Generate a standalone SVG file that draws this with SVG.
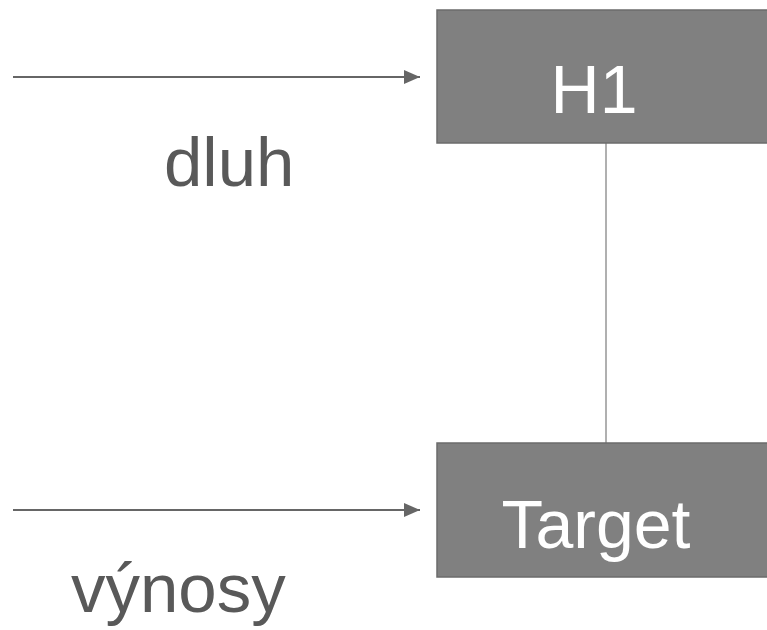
<svg xmlns="http://www.w3.org/2000/svg" width="767" height="630" viewBox="0 0 767 630">
<style>
.box{fill:#808080;stroke:#6b6b6b;stroke-width:1.5}
.bt{font-family:"Liberation Sans",Arial,sans-serif;font-size:68px;fill:#ffffff;text-anchor:middle}
.lbl{font-family:"Liberation Sans",Arial,sans-serif;font-size:69px;fill:#595959}
.arr{stroke:#666666;stroke-width:2;fill:none}
</style>
<defs>
<marker id="ah2" viewBox="0 0 16 14" refX="16" refY="7" markerWidth="16" markerHeight="14" markerUnits="userSpaceOnUse" orient="auto">
<path d="M0,0 L16,7 L0,14 Z" fill="#666666"/>
</marker>
</defs>
<g id="connectors">
<line class="arr" x1="13" y1="77" x2="420" y2="77" marker-end="url(#ah2)"/>
<line class="arr" x1="13" y1="510" x2="420" y2="510" marker-end="url(#ah2)"/>
<line x1="606" y1="143" x2="606" y2="443" stroke="#b0b0b0" stroke-width="2"/>
</g>
<g id="H1">
<rect class="box" x="437" y="10" width="340" height="133"/>
<text class="bt" x="594" y="113">H1</text>
</g>
<g id="Target">
<rect class="box" x="437" y="443" width="340" height="134"/>
<text class="bt" x="596" y="548">Target</text>
</g>
<g id="labels">
<text class="lbl" x="164" y="186">dluh</text>
<text class="lbl" x="71" y="612">výnosy</text>
</g>
</svg>
